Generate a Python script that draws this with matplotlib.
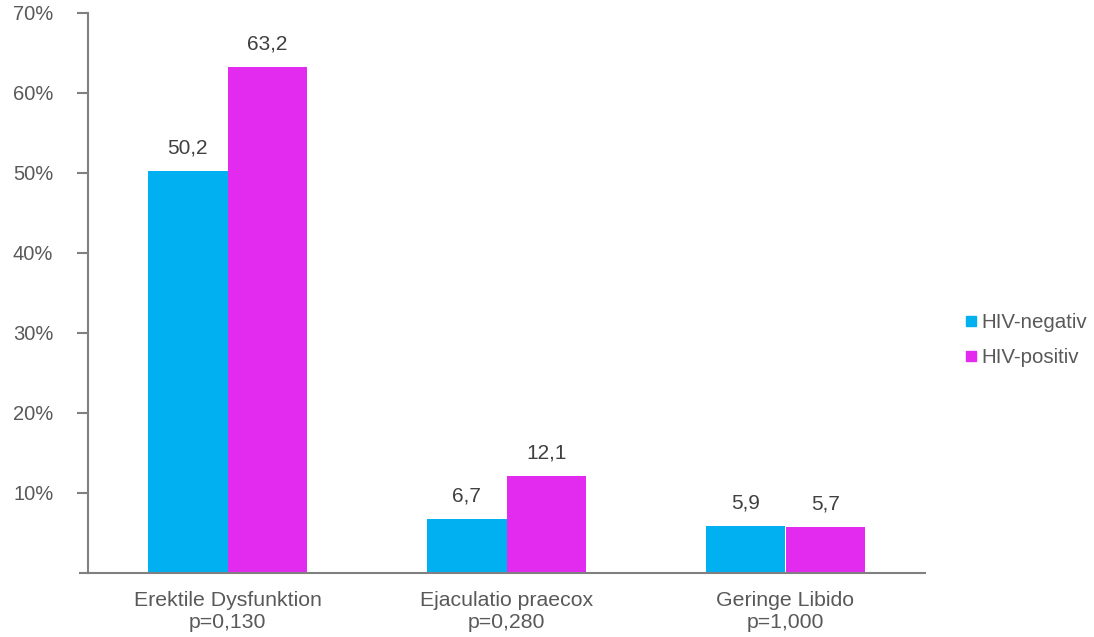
import numpy as np
import matplotlib
matplotlib.use('Agg')
import matplotlib.pyplot as plt
from matplotlib.lines import Line2D

# sexual dysfunction by HIV status, percent
categories = ['Erektile Dysfunktion\np=0,130', 'Ejaculatio praecox\np=0,280', 'Geringe Libido\np=1,000']
hiv_negativ = [50.2, 6.7, 5.9]
hiv_positiv = [63.2, 12.1, 5.7]
series_names = ['HIV-negativ', 'HIV-positiv']
y_ticks = [10, 20, 30, 40, 50, 60, 70]

BLUE = '#00B0F0'
MAGENTA = '#E32AEF'
TEXT = '#595959'
LABEL = '#404040'
AXIS = '#808080'

plt.rcParams['font.family'] = ['Liberation Sans', 'DejaVu Sans']

fig = plt.figure(figsize=(10.94, 6.37), dpi=100)
ax = fig.add_axes([88 / 1094, 64 / 637, (925 - 88) / 1094, (573 - 13) / 637])

x = np.arange(len(categories))
w = 0.285
ax.bar(x - w / 2, hiv_negativ, width=w, color=BLUE)
ax.bar(x + w / 2, hiv_positiv, width=w, color=MAGENTA)

for xs, vals in ((x - w / 2, hiv_negativ), (x + w / 2, hiv_positiv)):
    for xi, v in zip(xs, vals):
        ax.text(xi, v + 2.2, ('%.1f' % v).replace('.', ','), ha='center', va='baseline',
                fontsize=15, color=LABEL)

ax.set_xlim(-0.5, len(categories) - 0.5)
ax.set_ylim(0, 70)
ax.set_yticks(y_ticks)
ax.set_yticklabels(['%d%%' % t for t in y_ticks])
ax.set_xticks(x)
ax.set_xticklabels(categories, linespacing=1.2)

for side in ('top', 'right'):
    ax.spines[side].set_visible(False)
for side in ('left', 'bottom'):
    ax.spines[side].set_color(AXIS)
    ax.spines[side].set_linewidth(1.5)

ax.tick_params(axis='y', length=8, width=1.5, color=AXIS, labelcolor=TEXT, labelsize=14.5, pad=17)
ax.tick_params(axis='x', length=0, labelcolor=TEXT, labelsize=15.3, pad=13)

# bottom axis line runs a bit past the y axis, like the tick marks
ax.plot([-0.5 - 8 / 279, -0.5], [0, 0], color=AXIS, lw=1.5, clip_on=False)

handles = [Line2D([], [], marker='s', linestyle='none', markersize=6.5, color=c)
           for c in (BLUE, MAGENTA)]
fig.legend(handles, series_names, loc='center left', bbox_to_anchor=(961 / 1094, 1 - 340 / 637),
           frameon=False, fontsize=14.8, labelcolor=TEXT, handletextpad=0.0,
           labelspacing=0.75, handlelength=1.0, borderaxespad=0, borderpad=0)

fig.savefig('out.png', dpi=100)
